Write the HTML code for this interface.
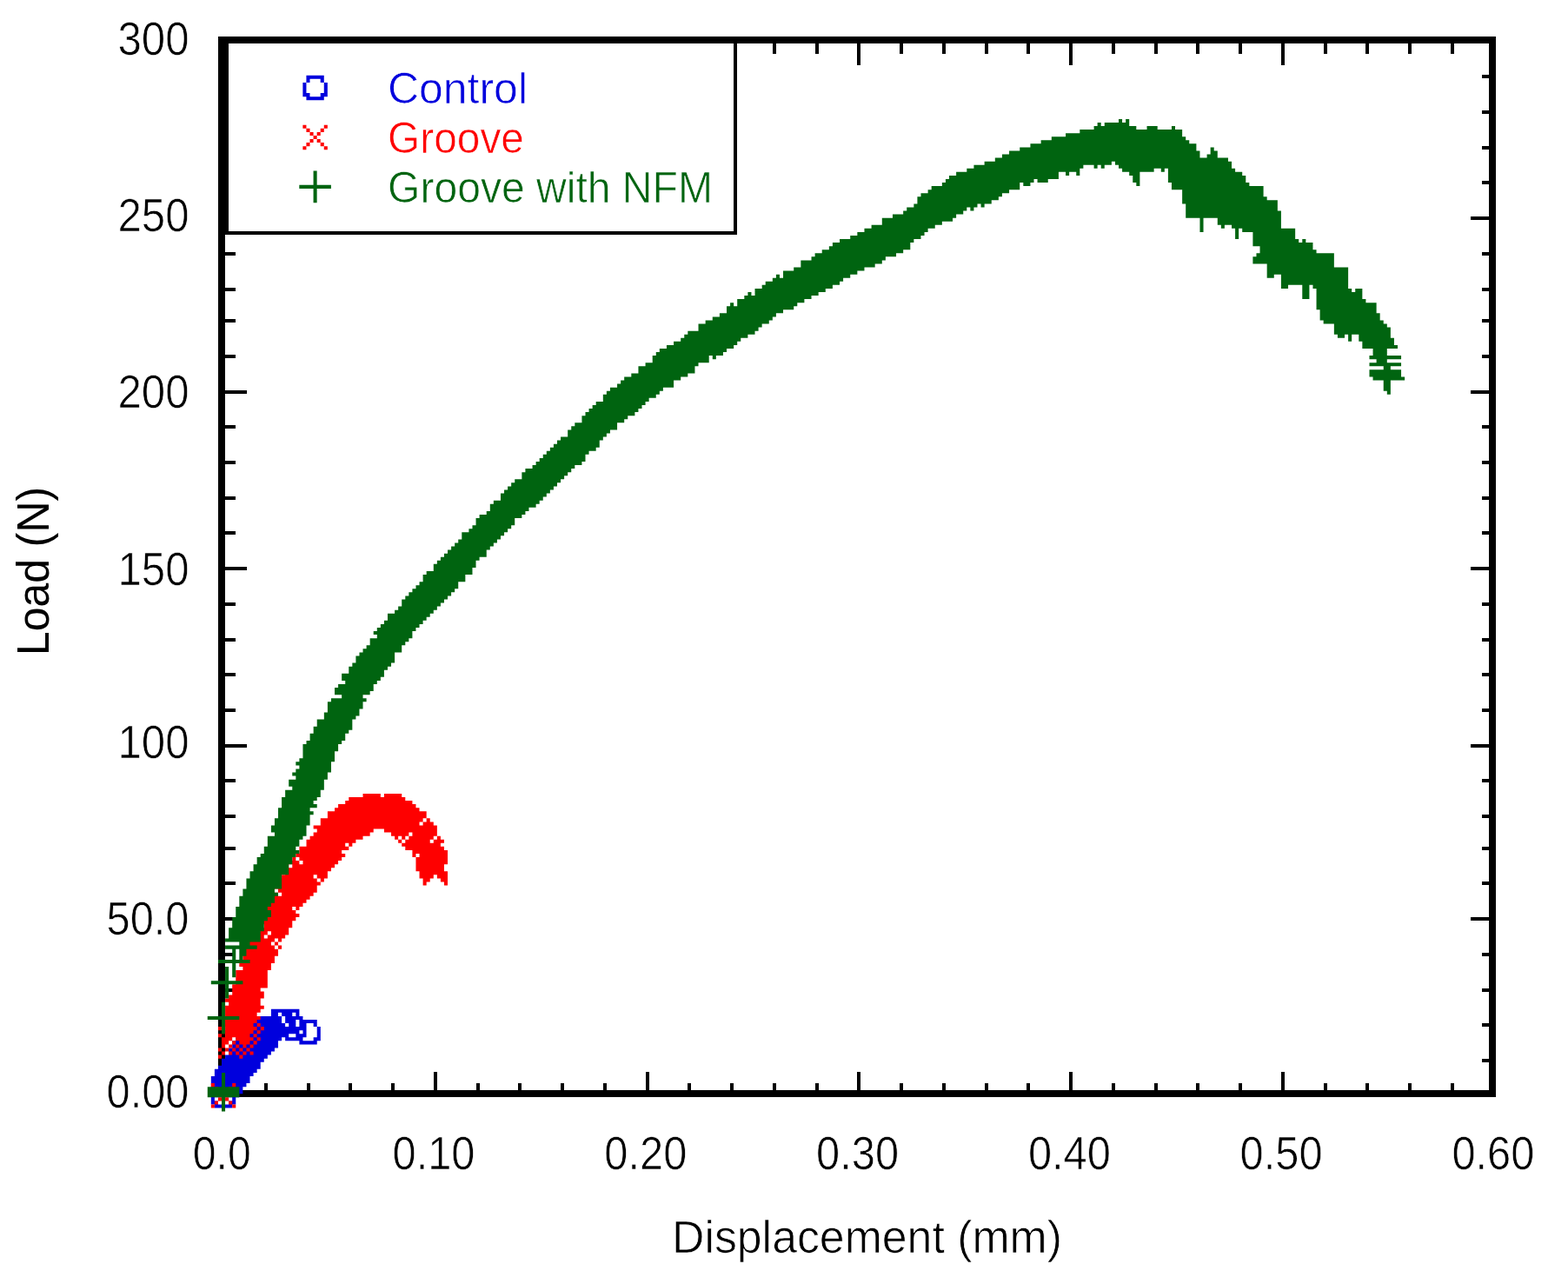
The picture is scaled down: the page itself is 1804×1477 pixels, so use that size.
<!DOCTYPE html>
<html lang="en"><head><meta charset="utf-8"><title>Load vs Displacement</title>
<style>html,body{margin:0;padding:0;background:#fff;overflow:hidden}svg{display:block}text{font-family:"Liberation Sans",Arial,sans-serif;stroke:#fff;stroke-width:0.7px}</style></head><body>
<svg role="img" aria-label="Load versus displacement chart" width="1804" height="1477" viewBox="0 0 1804 1477">
<rect width="1804" height="1477" fill="#fff"/>
<g fill="#000" shape-rendering="crispEdges">
<rect x="251" y="42" width="1470" height="8"/>
<rect x="251" y="1254" width="1470" height="8"/>
<rect x="251" y="42" width="8" height="1220"/>
<rect x="1713" y="42" width="8" height="1220"/>
<rect x="303.8" y="50" width="4.06" height="12.2"/>
<rect x="303.8" y="1245.7" width="4.06" height="8.3"/>
<rect x="352.5" y="50" width="4.06" height="12.2"/>
<rect x="352.5" y="1245.7" width="4.06" height="8.3"/>
<rect x="401.3" y="50" width="4.06" height="12.2"/>
<rect x="401.3" y="1245.7" width="4.06" height="8.3"/>
<rect x="450.0" y="50" width="4.06" height="12.2"/>
<rect x="450.0" y="1245.7" width="4.06" height="8.3"/>
<rect x="498.8" y="50" width="4.06" height="24.6"/>
<rect x="498.8" y="1233.2" width="4.06" height="20.8"/>
<rect x="547.5" y="50" width="4.06" height="12.2"/>
<rect x="547.5" y="1245.7" width="4.06" height="8.3"/>
<rect x="596.3" y="50" width="4.06" height="12.2"/>
<rect x="596.3" y="1245.7" width="4.06" height="8.3"/>
<rect x="645.1" y="50" width="4.06" height="12.2"/>
<rect x="645.1" y="1245.7" width="4.06" height="8.3"/>
<rect x="693.8" y="50" width="4.06" height="12.2"/>
<rect x="693.8" y="1245.7" width="4.06" height="8.3"/>
<rect x="742.6" y="50" width="4.06" height="24.6"/>
<rect x="742.6" y="1233.2" width="4.06" height="20.8"/>
<rect x="791.3" y="50" width="4.06" height="12.2"/>
<rect x="791.3" y="1245.7" width="4.06" height="8.3"/>
<rect x="840.1" y="50" width="4.06" height="12.2"/>
<rect x="840.1" y="1245.7" width="4.06" height="8.3"/>
<rect x="888.8" y="50" width="4.06" height="12.2"/>
<rect x="888.8" y="1245.7" width="4.06" height="8.3"/>
<rect x="937.6" y="50" width="4.06" height="12.2"/>
<rect x="937.6" y="1245.7" width="4.06" height="8.3"/>
<rect x="986.3" y="50" width="4.06" height="24.6"/>
<rect x="986.3" y="1233.2" width="4.06" height="20.8"/>
<rect x="1035.1" y="50" width="4.06" height="12.2"/>
<rect x="1035.1" y="1245.7" width="4.06" height="8.3"/>
<rect x="1083.9" y="50" width="4.06" height="12.2"/>
<rect x="1083.9" y="1245.7" width="4.06" height="8.3"/>
<rect x="1132.6" y="50" width="4.06" height="12.2"/>
<rect x="1132.6" y="1245.7" width="4.06" height="8.3"/>
<rect x="1181.4" y="50" width="4.06" height="12.2"/>
<rect x="1181.4" y="1245.7" width="4.06" height="8.3"/>
<rect x="1230.1" y="50" width="4.06" height="24.6"/>
<rect x="1230.1" y="1233.2" width="4.06" height="20.8"/>
<rect x="1278.9" y="50" width="4.06" height="12.2"/>
<rect x="1278.9" y="1245.7" width="4.06" height="8.3"/>
<rect x="1327.6" y="50" width="4.06" height="12.2"/>
<rect x="1327.6" y="1245.7" width="4.06" height="8.3"/>
<rect x="1376.4" y="50" width="4.06" height="12.2"/>
<rect x="1376.4" y="1245.7" width="4.06" height="8.3"/>
<rect x="1425.2" y="50" width="4.06" height="12.2"/>
<rect x="1425.2" y="1245.7" width="4.06" height="8.3"/>
<rect x="1473.9" y="50" width="4.06" height="24.6"/>
<rect x="1473.9" y="1233.2" width="4.06" height="20.8"/>
<rect x="1522.7" y="50" width="4.06" height="12.2"/>
<rect x="1522.7" y="1245.7" width="4.06" height="8.3"/>
<rect x="1571.4" y="50" width="4.06" height="12.2"/>
<rect x="1571.4" y="1245.7" width="4.06" height="8.3"/>
<rect x="1620.2" y="50" width="4.06" height="12.2"/>
<rect x="1620.2" y="1245.7" width="4.06" height="8.3"/>
<rect x="1668.9" y="50" width="4.06" height="12.2"/>
<rect x="1668.9" y="1245.7" width="4.06" height="8.3"/>
<rect x="259" y="1218.0" width="12.2" height="4.06"/>
<rect x="1704.7" y="1218.0" width="8.3" height="4.06"/>
<rect x="259" y="1177.2" width="12.2" height="4.06"/>
<rect x="1704.7" y="1177.2" width="8.3" height="4.06"/>
<rect x="259" y="1136.5" width="12.2" height="4.06"/>
<rect x="1704.7" y="1136.5" width="8.3" height="4.06"/>
<rect x="259" y="1095.8" width="12.2" height="4.06"/>
<rect x="1704.7" y="1095.8" width="8.3" height="4.06"/>
<rect x="259" y="1055.1" width="24.6" height="4.06"/>
<rect x="1692.2" y="1055.1" width="20.8" height="4.06"/>
<rect x="259" y="1014.4" width="12.2" height="4.06"/>
<rect x="1704.7" y="1014.4" width="8.3" height="4.06"/>
<rect x="259" y="973.7" width="12.2" height="4.06"/>
<rect x="1704.7" y="973.7" width="8.3" height="4.06"/>
<rect x="259" y="937.1" width="12.2" height="4.06"/>
<rect x="1704.7" y="937.1" width="8.3" height="4.06"/>
<rect x="259" y="896.4" width="12.2" height="4.06"/>
<rect x="1704.7" y="896.4" width="8.3" height="4.06"/>
<rect x="259" y="855.6" width="24.6" height="4.06"/>
<rect x="1692.2" y="855.6" width="20.8" height="4.06"/>
<rect x="259" y="814.9" width="12.2" height="4.06"/>
<rect x="1704.7" y="814.9" width="8.3" height="4.06"/>
<rect x="259" y="774.2" width="12.2" height="4.06"/>
<rect x="1704.7" y="774.2" width="8.3" height="4.06"/>
<rect x="259" y="733.5" width="12.2" height="4.06"/>
<rect x="1704.7" y="733.5" width="8.3" height="4.06"/>
<rect x="259" y="692.8" width="12.2" height="4.06"/>
<rect x="1704.7" y="692.8" width="8.3" height="4.06"/>
<rect x="259" y="652.1" width="24.6" height="4.06"/>
<rect x="1692.2" y="652.1" width="20.8" height="4.06"/>
<rect x="259" y="611.4" width="12.2" height="4.06"/>
<rect x="1704.7" y="611.4" width="8.3" height="4.06"/>
<rect x="259" y="570.7" width="12.2" height="4.06"/>
<rect x="1704.7" y="570.7" width="8.3" height="4.06"/>
<rect x="259" y="530.0" width="12.2" height="4.06"/>
<rect x="1704.7" y="530.0" width="8.3" height="4.06"/>
<rect x="259" y="489.3" width="12.2" height="4.06"/>
<rect x="1704.7" y="489.3" width="8.3" height="4.06"/>
<rect x="259" y="448.5" width="24.6" height="4.06"/>
<rect x="1692.2" y="448.5" width="20.8" height="4.06"/>
<rect x="259" y="407.8" width="12.2" height="4.06"/>
<rect x="1704.7" y="407.8" width="8.3" height="4.06"/>
<rect x="259" y="367.1" width="12.2" height="4.06"/>
<rect x="1704.7" y="367.1" width="8.3" height="4.06"/>
<rect x="259" y="330.5" width="12.2" height="4.06"/>
<rect x="1704.7" y="330.5" width="8.3" height="4.06"/>
<rect x="259" y="289.8" width="12.2" height="4.06"/>
<rect x="1704.7" y="289.8" width="8.3" height="4.06"/>
<rect x="259" y="249.1" width="24.6" height="4.06"/>
<rect x="1692.2" y="249.1" width="20.8" height="4.06"/>
<rect x="259" y="208.4" width="12.2" height="4.06"/>
<rect x="1704.7" y="208.4" width="8.3" height="4.06"/>
<rect x="259" y="167.6" width="12.2" height="4.06"/>
<rect x="1704.7" y="167.6" width="8.3" height="4.06"/>
<rect x="259" y="126.9" width="12.2" height="4.06"/>
<rect x="1704.7" y="126.9" width="8.3" height="4.06"/>
<rect x="259" y="86.2" width="12.2" height="4.06"/>
<rect x="1704.7" y="86.2" width="8.3" height="4.06"/>
</g>
<g id="series">
<path fill="#0000dd" transform="translate(255.01 1258.27) scale(4.063)" d="M5 0v1h-1v2h-1v1h-5v-1h-1v-8h1v-2h1v-1h1v-2h1v-1h1v-2h1v-2h1v-1h1v-2h1v-2h2v-1h1v-1h5v-2h8v2h1v1h4v2h-1v-1h-2v4h-1v1h3v-1h1v-3h1v4h-1v1h-5v-1h-4v-1h-1v1h-1v2h-1v1h-1v1h-1v1h-1v1h-1v2h-1v1h-1v1h-1v2h-1v1h-1v2zM19 -17v1h2v-1zM17 -23h-1v1h1v2h1v1h1v-1h-1v-2h-1zM21 -23h-1v1h1zM-2 1v1h1v1h3v-1h1v-1zM21 -19h1v-2h-1zM23 -18h-1v1h1z"/>
<path fill="#fe0000" transform="translate(255.01 1258.27) scale(4.063)" d="M52 -69v-1h-1v-1h1v-1h1v-1h1v-1h-1v1h-1v1h-1v-1h-1v1h-1v-1h-1v-1h-2v-1h-3v1h-1v1h-2v1h-2v1h-1v1h-1v-1h-1v1h1v1h-2v1h1v1h-1v1h-1v1h-1v1h-1v1h-1v2h-1v1h-1v-1h-1v-1h-1v1h1v1h1v1h-1v2h-1v1h-1v1h-1v1h-1v1h-1v1h-1v-1h-1v1h1v1h1v1h-1v1h-1v2h-1v2h-1v1h-1v1h-1v-1h-1v1h-1v1h1v1h1v2h-1v2h-1v2h-1v5h-2v1h1v2h-1v2h1v1h-1v1h-1v1h1v1h-1v1h-1v1h1v1h-1v1h-1v1h1v1h-1v1h-1v1h-1v-1h-1v-1h-1v-1h-1v1h-1v1h-1v1h-1v-3h1v-1h-1v-1h1v-1h-1v-2h1v-4h1v-1h-1v-1h1v-1h1v-3h1v-4h2v-1h-1v-2h1v-4h1v-3h1v-1h1v-1h1v1h1v-1h1v-1h-1v-1h-1v-2h1v-2h1v-1h1v-3h3v1h1v-1h-1v-1h-1v-2h1v-1h1v-1h1v-3h1v1h1v-1h-1v-1h1v-1h1v1h1v1h1v-1h-1v-1h-1v-1h1v-2h2v-2h1v-1h1v-1h1v-1h-1v-1h2v-2h2v-2h2v-1h1v-1h2v-1h1v-1h4v-1h5v1h1v-1h5v1h1v1h2v1h1v1h1v1h2v2h-1v1h-1v1h1v-1h1v-1h1v1h1v1h1v3h-1v1h-1v1h1v-1h1v-1h1v1h1v1h-1v1h1v1h1v4h-1v2h1v4h-1v-1h-1v-1h-1v-1h-1v1h-1v1h-1v1h-1v-2h-1v-2h-1v-4h1v-1h-1v1h-1v-2zM1 -13h1v1h-1zM2 -13v-1h1v1zM2 -12h1v1h-1zM1 -12v1h-1v-1zM8 -14h1v1h-1zM9 -14v-1h1v1zM8 -13v1h-1v-1zM0 -18h-1v-1h1zM0 -17v1h-1v-1zM51 -71h-1v-1h1zM12 -44h1v-1h1v-1h-1v1h-1zM0 0h1v1h-1zM0 0h-1v-1h1zM1 0v-1h1v1zM1 1h1v1h-1zM0 1v1h-1v-1zM4 -12h1v1h-1zM4 -12h-1v-1h1zM5 -12v-1h1v1zM5 -11h1v1h-1zM4 -13v-1h1v1zM11 -19h1v1h-1zM11 -19h-1v-1h1zM11 -18v1h-1v-1zM11 -47h-1v-1h1zM-1 2v1h-1v-1zM3 -15h1v1h-1zM15 -42v-1h1v1zM2 2h1v1h-1zM3 3h1v1h-1zM16 -41v-1h1v1zM6 -11v-1h1v1zM-3 3h1v1h-1zM10 -49v1h-1v-1zM9 -47h-1v-1h1zM8 -12h1v1h-1zM10 -17v1h-1v-1zM3 -3h1v1h-1zM3 -2v1h-1v-1zM-1 -1h-1v-1h1zM-2 -2h-1v-1h1zM10 -15v-1h1v1zM0 -13v1h-1v-1zM0 -11v1h-1v-1z"/>
<path fill="#006410" transform="translate(255.01 1258.27) scale(4.063)" d="M10 -67h1v-1h1v-2h1v-3h2v-1h-1v-2h1v-2h1v-3h1v-3h1v-2h2v-1h-1v-2h2v-1h-1v-1h1v-1h1v-1h-1v-1h1v-1h1v-4h1v-1h1v-2h1v-2h1v-2h2v-2h1v-3h1v-1h3v-1h-2v-2h1v-1h2v-1h-1v-2h2v-2h1v-1h1v-2h1v-1h1v-1h1v-1h1v-2h2v-1h-1v-1h1v-1h1v-1h1v-1h1v-2h2v-1h1v-1h1v-2h1v-1h1v-1h1v-1h1v-1h1v-1h1v-2h1v-1h2v-2h1v-1h1v-1h1v-1h1v-1h1v-1h1v-1h1v-1h1v-2h2v-1h1v-1h1v-2h1v-1h2v-1h1v-2h1v-1h2v-2h1v-1h1v-1h1v-1h1v-1h2v-2h1v-1h2v-1h1v-1h1v-1h1v-1h1v-1h1v-1h1v-1h1v-1h1v-1h2v-2h1v-1h1v-1h2v-2h1v-1h1v-1h1v-1h1v-1h2v-2h1v-1h1v-1h2v-1h1v-1h1v-1h2v-1h2v-2h2v-1h2v-2h1v-1h1v-1h2v-1h2v-1h2v-1h1v-1h1v-1h3v-2h2v-1h2v-1h2v-1h2v-2h1v-1h1v1h1v-2h2v-1h1v-1h1v1h1v-2h2v-1h1v-1h2v-1h1v-1h1v1h1v-2h3v-1h2v-2h3v-1h1v-1h2v-1h2v-1h1v-1h2v-1h3v-1h2v-1h2v-1h2v-1h3v-2h3v-1h3v-1h1v-1h2v-1h1v-2h1v-1h2v-1h1v-1h3v-1h1v-1h1v-1h2v-1h3v-1h2v-1h3v-1h3v-1h2v-1h2v-1h3v-1h3v-1h3v-1h3v-1h4v-1h4v-1h4v-1h1v-1h1v1h1v-1h4v-1h1v1h1v-1h1v2h2v1h3v-1h3v1h4v-1h1v1h2v2h1v1h1v1h2v2h1v2h2v-1h1v-2h1v1h1v2h3v1h1v2h1v1h2v1h1v2h1v1h4v3h1v1h3v3h1v5h4v3h1v1h1v-1h1v1h2v2h1v1h5v4h4v6h1v1h1v-1h2v3h1v1h3v3h1v2h1v1h1v1h1v3h1v2h1v1h-3v2h4v1h-4v1h4v1h-3v1h3v2h1v1h-4v4h-1v-1h-1v-3h-3v-1h-1v-2h4v-1h-4v-1h2v-1h-2v-1h1v-2h-3v-2h-1v-2h-2v2h-1v-2h-1v1h-2v-1h-1v-3h-3v-1h-1v-3h-1v-6h-1v-1h-1v4h-2v-4h-4v1h-2v-4h-2v1h-2v-4h-4v-2h1v-1h1v-2h-2v-4h-3v-1h-1v3h-1v-3h-1v-1h-2v1h-1v-1h-1v-2h-4v4h-1v-4h-4v-4h-1v-4h-3v-2h-1v-4h-1v1h-1v-1h-2v1h-4v4h-1v-1h-1v-2h-1v-1h-2v-1h-1v-1h-1v-1h-1v1h-2v1h-1v-1h-1v1h-1v-1h-3v1h-1v2h-1v-1h-2v1h-1v-1h-2v2h-3v1h-3v-1h-1v1h-1v1h-2v-1h-1v2h-3v1h-2v1h-1v1h-2v1h-2v1h-1v-1h-1v1h-1v1h-1v-1h-1v1h-1v1h-2v1h-1v1h-3v1h-2v1h-2v1h-1v1h-1v1h-2v1h-1v2h-2v1h-2v1h-3v1h-1v1h-2v1h-3v1h-2v1h-2v1h-2v1h-1v1h-2v1h-2v1h-2v1h-2v1h-2v1h-2v1h-1v1h-3v1h-2v1h-1v1h-1v1h-2v1h-1v1h-1v1h-2v1h-2v1h-1v1h-1v1h-2v1h-1v1h-2v1h-1v-1h-1v2h-3v1h-1v2h-2v1h-2v1h-2v2h-3v1h-1v1h-1v1h-2v1h-1v1h-1v1h-1v1h-1v1h-2v1h-1v1h-2v2h-2v1h-1v1h-1v1h-1v2h-1v1h-2v1h-1v2h-1v1h-2v1h-1v1h-1v1h-1v1h-1v1h-1v1h-1v1h-1v1h-1v1h-1v1h-1v1h-1v1h-2v1h-1v1h-1v1h-2v2h-1v1h-1v1h-1v1h-1v1h-1v1h-1v1h-1v1h-1v2h-2v1h-1v2h-1v2h-2v2h-2v2h-1v1h-1v1h-1v1h-1v1h-1v1h-1v1h-1v1h-1v1h-1v1h-1v1h-1v1h-1v1h-1v2h-1v1h-1v1h-1v2h-2v3h-1v1h-1v1h-1v2h-1v1h-1v1h-1v2h-1v1h-2v1h1v1h-1v2h-1v2h-1v1h-1v3h-1v1h-1v2h-1v1h-1v2h-1v3h-1v3h-1v2h-1v3h-1v2h-1v1h-1v1h1v1h-2v1h1v1h-1v3h-1v3h-1v1h-1v2h-1v1h1v1h-1v1h-1v2h-1v3h-2v4h-2v1h1v1h-1v2h-1v1h-1v1h1v2h-1v1h-1v3h-1v3h-3v1h2v1h-3v2h-1v1h2v1h-4v4h-1v-4h-4v-1h4v-3h-2v-1h4v-1h-4v-1h1v-3h1v-3h1v-3h1v-3h1v-2h1v-3h1v-2h1v-2h1zM1 -17h-1v-4h-4v-1h4v-4h1v4h4v1h-4zM1 -2h4v3h-4v4h-1v-4h-4v-3h4v-4h1zM4 -38h1v-3h-1zM2 -27h-1v-4h-4v-1h4v-4h1v4h4v1h-4z"/>
</g>
<rect x="261" y="48" width="585" height="220" fill="#fff" stroke="#000" stroke-width="4" shape-rendering="crispEdges"/>
<rect x="251" y="42" width="600" height="8" fill="#000"/>
<rect x="251" y="42" width="8" height="230" fill="#000"/>
<g id="legend-markers">
<path fill="#0000dd" transform="translate(360.57 98.97) scale(4.063)" d="M3 -1h-1v-1h-3v1h-1v-2h5zM3 -1h1v4h-1v1h-5v-1h-1v-4h1v3h1v1h3v-1h1z"/>
<path fill="#fe0000" transform="translate(360.57 155.97) scale(4.063)" d="M2 -2h1v1h-1zM3 -2v-1h1v1zM2 -1v1h-1v-1zM-1 -1h1v1h-1zM-1 -1h-1v-1h1zM0 0h1v1h-1zM-2 -2h-1v-1h1zM1 1h1v1h-1zM0 1v1h-1v-1zM2 2h1v1h-1zM-1 2v1h-1v-1zM-3 3h1v1h-1zM3 3h1v1h-1z"/>
<path fill="#006410" transform="translate(360.57 212.87) scale(4.063)" d="M1 1v4h-1v-4h-4v-1h4v-4h1v4h4v1z"/>
</g>
<text x="446" y="118.6" font-size="50" fill="#0000dd" text-anchor="start" textLength="161" lengthAdjust="spacingAndGlyphs">Control</text>
<text x="446" y="175.9" font-size="50" fill="#fe0000" text-anchor="start" textLength="157" lengthAdjust="spacingAndGlyphs">Groove</text>
<text x="446" y="232.7" font-size="50" fill="#006410" text-anchor="start" textLength="374" lengthAdjust="spacingAndGlyphs">Groove with NFM</text>
<text x="217.5" y="62.7" font-size="53.5" fill="#000" text-anchor="end" textLength="82" lengthAdjust="spacingAndGlyphs">300</text>
<text x="217.5" y="266.1" font-size="53.5" fill="#000" text-anchor="end" textLength="82" lengthAdjust="spacingAndGlyphs">250</text>
<text x="217.5" y="469.4" font-size="53.5" fill="#000" text-anchor="end" textLength="82" lengthAdjust="spacingAndGlyphs">200</text>
<text x="217.5" y="672.6" font-size="53.5" fill="#000" text-anchor="end" textLength="82" lengthAdjust="spacingAndGlyphs">150</text>
<text x="217.5" y="872" font-size="53.5" fill="#000" text-anchor="end" textLength="82" lengthAdjust="spacingAndGlyphs">100</text>
<text x="217.5" y="1075.2" font-size="53.5" fill="#000" text-anchor="end" textLength="95" lengthAdjust="spacingAndGlyphs">50.0</text>
<text x="217.5" y="1274.2" font-size="53.5" fill="#000" text-anchor="end" textLength="95" lengthAdjust="spacingAndGlyphs">0.00</text>
<text x="255.2" y="1344.6" font-size="53.5" fill="#000" text-anchor="middle" textLength="67" lengthAdjust="spacingAndGlyphs">0.0</text>
<text x="499.0" y="1344.6" font-size="53.5" fill="#000" text-anchor="middle" textLength="95" lengthAdjust="spacingAndGlyphs">0.10</text>
<text x="742.8" y="1344.6" font-size="53.5" fill="#000" text-anchor="middle" textLength="95" lengthAdjust="spacingAndGlyphs">0.20</text>
<text x="986.6" y="1344.6" font-size="53.5" fill="#000" text-anchor="middle" textLength="95" lengthAdjust="spacingAndGlyphs">0.30</text>
<text x="1230.4" y="1344.6" font-size="53.5" fill="#000" text-anchor="middle" textLength="95" lengthAdjust="spacingAndGlyphs">0.40</text>
<text x="1474.1" y="1344.6" font-size="53.5" fill="#000" text-anchor="middle" textLength="95" lengthAdjust="spacingAndGlyphs">0.50</text>
<text x="1717.9" y="1344.6" font-size="53.5" fill="#000" text-anchor="middle" textLength="95" lengthAdjust="spacingAndGlyphs">0.60</text>
<text x="773" y="1440.7" font-size="51" fill="#000" text-anchor="start" textLength="449" lengthAdjust="spacingAndGlyphs">Displacement (mm)</text>
<text transform="translate(56.1,754) rotate(-90)" font-size="52" textLength="194" lengthAdjust="spacingAndGlyphs" style="stroke:none">Load (N)</text>
</svg></body></html>
